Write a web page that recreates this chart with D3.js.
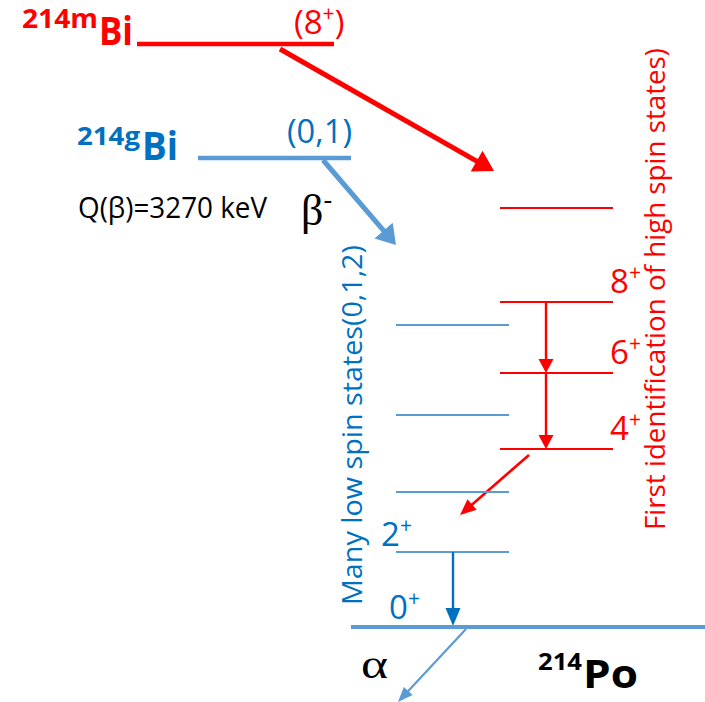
<!DOCTYPE html>
<html>
<head>
<meta charset="utf-8">
<script src="https://cdn.jsdelivr.net/npm/d3@7"></script>
<style>
  html, body { margin: 0; padding: 0; background: #fff; }
  svg { display: block; }
  text { font-family: "Open Sans", "Noto Sans", sans-serif; }
</style>
</head>
<body>
<svg id="chart" width="705" height="702"></svg>
<script>
// ---- Data (level heights above the 214Po ground state, arbitrary units) ----
const parentNames = ["214m", "214g"];
const parentSpins = ["(8", "(0,1)"];
const parentEnergies = [583, 469];
const highSpinLabels = ["", "8", "6", "4"];
const highSpinEnergies = [419, 325, 254, 178];
const lowSpinLabels = ["", "", "", "2"];
const lowSpinEnergies = [302, 212, 135, 75];
const groundEnergy = 0;
const highCascadeFrom = [325, 254];
const highCascadeTo = [254, 178];
const feedFrom = [178];
const feedTo = [112];
const lowCascadeFrom = [75];
const lowCascadeTo = [0];
const qValueText = "Q(β)=3270 keV";
const lowSpinTitle = "Many low spin states(0,1,2)";
const highSpinTitle = "First identification of high spin states)";

const RED = "#ff0000", LBLUE = "#5b9bd5", DBLUE = "#0070c0";

const svg = d3.select("#chart");
const y = d3.scaleLinear().domain([0, 583]).range([627, 44]);

function arrow(g, x1, y1, x2, y2, color, w, hl, hw) {
  const dx = x2 - x1, dy = y2 - y1, L = Math.hypot(dx, dy);
  const ux = dx / L, uy = dy / L, px = -uy, py = ux;
  const bx = x2 - ux * hl, by = y2 - uy * hl;
  g.append("line").attr("x1", x1).attr("y1", y1).attr("x2", bx + ux * 1).attr("y2", by + uy * 1)
    .attr("stroke", color).attr("stroke-width", w);
  g.append("path").attr("d", d3.line()([[x2, y2], [bx + px * hw / 2, by + py * hw / 2], [bx - px * hw / 2, by - py * hw / 2]]) + "Z")
    .attr("fill", color);
}

const g = svg.append("g");

// ---- Parent levels ----
const parentX = [[137, 334], [198, 351]];
const parentColors = [RED, LBLUE];
parentEnergies.forEach((e, i) => {
  g.append("line").attr("x1", parentX[i][0]).attr("x2", parentX[i][1])
    .attr("y1", y(e)).attr("y2", y(e)).attr("stroke", parentColors[i]).attr("stroke-width", 4.5);
});

// 214mBi label
const tm = g.append("text").attr("fill", RED).attr("font-weight", "bold");
tm.append("tspan").attr("x", 22).attr("y", 28).attr("font-size", 27).attr("textLength", 76).attr("lengthAdjust", "spacingAndGlyphs").text(parentNames[0]);
tm.append("tspan").attr("x", 99).attr("y", 45).attr("font-size", 40).attr("textLength", 34).attr("lengthAdjust", "spacingAndGlyphs").text("Bi");
const s8 = g.append("text").attr("fill", RED).attr("font-size", 33);
s8.append("tspan").attr("x", 294).attr("y", 34).text(parentSpins[0]);
s8.append("tspan").attr("font-size", 21).attr("dy", -13).text("+");
s8.append("tspan").attr("font-size", 33).attr("dy", 13).text(")");

// 214gBi label
const tg = g.append("text").attr("fill", DBLUE).attr("font-weight", "bold");
tg.append("tspan").attr("x", 77).attr("y", 145).attr("font-size", 25).attr("textLength", 63).attr("lengthAdjust", "spacingAndGlyphs").text(parentNames[1]);
tg.append("tspan").attr("x", 142).attr("y", 160).attr("font-size", 39).attr("textLength", 36).attr("lengthAdjust", "spacingAndGlyphs").text("Bi");
g.append("text").attr("fill", DBLUE).attr("font-size", 32).attr("x", 287).attr("y", 143)
  .attr("textLength", 65).attr("lengthAdjust", "spacingAndGlyphs").text(parentSpins[1]);

g.append("text").attr("fill", "#000").attr("font-size", 29).attr("x", 78).attr("y", 218)
  .attr("textLength", 189).attr("lengthAdjust", "spacingAndGlyphs").text(qValueText);
const beta = g.append("text").attr("fill", "#000").style("font-family", "Liberation Serif, serif").attr("font-size", 44);
beta.append("tspan").attr("x", 301).attr("y", 225).text("β");
beta.append("tspan").attr("dy", -17).attr("font-size", 26).text("-");

// ---- Decay arrows from parents ----
arrow(g, 280, 49, 494, 171, RED, 5, 20, 24);
arrow(g, 323, 160, 396, 245, LBLUE, 5, 19, 24);

// ---- High spin levels ----
highSpinEnergies.forEach((e, i) => {
  g.append("line").attr("x1", 500).attr("x2", 613).attr("y1", y(e)).attr("y2", y(e))
    .attr("stroke", RED).attr("stroke-width", 2.2);
  if (highSpinLabels[i]) {
    const t = g.append("text").attr("fill", RED).attr("font-size", 33);
    t.append("tspan").attr("x", 610).attr("y", y(e) - 9).text(highSpinLabels[i]);
    t.append("tspan").attr("font-size", 21).attr("dy", -13).text("+");
  }
});
highCascadeFrom.forEach((e, i) => arrow(g, 546, y(e), 546, y(highCascadeTo[i]), RED, 2.4, 14, 15));
feedFrom.forEach((e, i) => arrow(g, 529, y(e) + 6, 460, y(feedTo[i]), RED, 2.6, 16, 14));

// ---- Low spin levels ----
lowSpinEnergies.forEach((e, i) => {
  g.append("line").attr("x1", 396).attr("x2", 509).attr("y1", y(e)).attr("y2", y(e))
    .attr("stroke", LBLUE).attr("stroke-width", 2.2);
  if (lowSpinLabels[i]) {
    const t = g.append("text").attr("fill", DBLUE).attr("font-size", 33);
    t.append("tspan").attr("x", 381).attr("y", y(e) - 6).text(lowSpinLabels[i]);
    t.append("tspan").attr("font-size", 21).attr("dy", -13).text("+");
  }
});
lowCascadeFrom.forEach((e, i) => arrow(g, 453, y(e), 453, y(lowCascadeTo[i]) - 1, DBLUE, 2.4, 18, 15));

// ---- Ground state ----
g.append("line").attr("x1", 351).attr("x2", 705).attr("y1", y(groundEnergy)).attr("y2", y(groundEnergy))
  .attr("stroke", LBLUE).attr("stroke-width", 4);
const t0 = g.append("text").attr("fill", DBLUE).attr("font-size", 33);
t0.append("tspan").attr("x", 389).attr("y", 619).text("0");
t0.append("tspan").attr("font-size", 21).attr("dy", -13).text("+");

arrow(g, 466, y(groundEnergy) + 2, 398, 702, LBLUE, 2.2, 15, 12);
g.append("text").attr("x", 361).attr("y", 678).attr("font-size", 40)
  .attr("textLength", 27).attr("lengthAdjust", "spacingAndGlyphs")
  .style("font-family", "Liberation Serif, serif").text("α");

const po = g.append("text").attr("fill", "#000").attr("font-weight", "bold");
po.append("tspan").attr("x", 538).attr("y", 670).attr("font-size", 24).attr("textLength", 44).attr("lengthAdjust", "spacingAndGlyphs").text("214");
po.append("tspan").attr("x", 583).attr("y", 688).attr("font-size", 39).attr("textLength", 55).attr("lengthAdjust", "spacingAndGlyphs").text("Po");

// ---- Vertical titles ----
g.append("text").attr("fill", DBLUE).attr("font-size", 27)
  .attr("transform", "translate(362,605) rotate(-90)")
  .attr("textLength", 360).attr("lengthAdjust", "spacingAndGlyphs").text(lowSpinTitle);
g.append("text").attr("fill", RED).attr("font-size", 27)
  .attr("transform", "translate(665,530) rotate(-90)")
  .attr("textLength", 482).attr("lengthAdjust", "spacingAndGlyphs").text(highSpinTitle);
</script>
</body>
</html>
